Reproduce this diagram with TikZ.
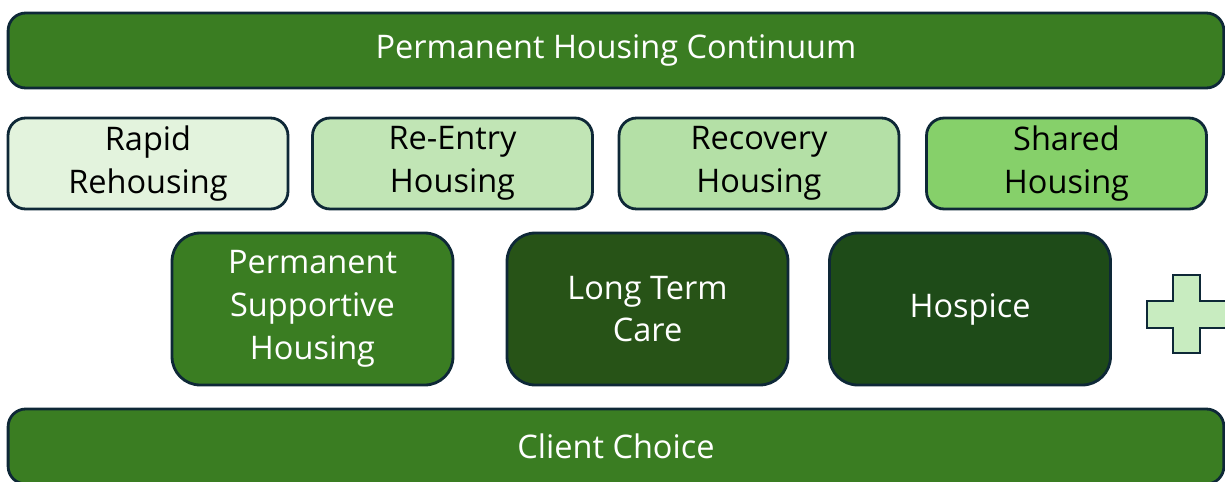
\documentclass[tikz,border=0pt]{standalone}
\usepackage{fontspec}
\setmainfont{Open Sans}
\usepackage{tikz}
\usetikzlibrary{positioning}
\definecolor{barleaf}{RGB}{58,125,34}
\definecolor{edgenavy}{RGB}{14,40,55}
\definecolor{palemint}{RGB}{227,243,221}
\definecolor{softmint}{RGB}{193,229,181}
\definecolor{midmint}{RGB}{180,224,166}
\definecolor{brightleaf}{RGB}{134,208,106}
\definecolor{forestleaf}{RGB}{39,83,23}
\definecolor{pineleaf}{RGB}{30,75,24}
\definecolor{crossmint}{RGB}{200,236,192}
\tikzset{
  barbox/.style={draw=edgenavy, line width=1.6pt, rounded corners=10pt,
    fill=barleaf, text=white, minimum height=1.5cm,
    align=center, font=\fontsize{18.5}{22}\selectfont},
  optbox/.style={draw=edgenavy, line width=1.6pt, rounded corners=10pt,
    minimum width=5.6cm, minimum height=1.82cm, text=black,
    align=center, font=\fontsize{18.5}{24.2}\selectfont},
  carebox/.style={draw=edgenavy, line width=1.6pt, rounded corners=16pt,
    minimum width=5.62cm, minimum height=3.04cm, text=white,
    align=center, font=\fontsize{18.5}{24.4}\selectfont},
}

\begin{document}
\begin{tikzpicture}[x=0.02cm, y=-0.02cm]
  \useasboundingbox (0,0) rectangle (1225,481);

  % top bar
  \node[barbox, minimum width=24.32cm] (continuum) at (616,50.5)
    {Permanent Housing Continuum};

  % housing options
  \node[optbox, fill=palemint] (rapid) at (148,163.5) {Rapid\\Rehousing};
  \node[optbox, fill=softmint] (reentry) at (452.5,163.5) {Re-Entry\\Housing};
  \node[optbox, fill=midmint] (recovery) at (759,163.5) {Recovery\\Housing};
  \node[optbox, fill=brightleaf] (shared) at (1066.5,163.5) {Shared\\Housing};

  % care settings
  \node[carebox, fill=barleaf] (psh) at (312.5,309)
    {Permanent\\Supportive\\Housing};
  \node[carebox, fill=forestleaf] (ltc) at (647.5,309) {Long Term\\Care};
  \node[carebox, fill=pineleaf] (hospice) at (970,309) {Hospice};

  % plus sign
  \draw[draw=edgenavy, line width=1.4pt, fill=crossmint]
    (1173,275) -- (1200,275) -- (1200,301) -- (1226,301) -- (1226,328)
    -- (1200,328) -- (1200,353) -- (1173,353) -- (1173,328) -- (1147,328)
    -- (1147,301) -- (1173,301) -- cycle;

  % bottom bar
  \node[barbox, minimum width=24.32cm] (choice) at (616,446.5) {Client Choice};
\end{tikzpicture}
\end{document}
